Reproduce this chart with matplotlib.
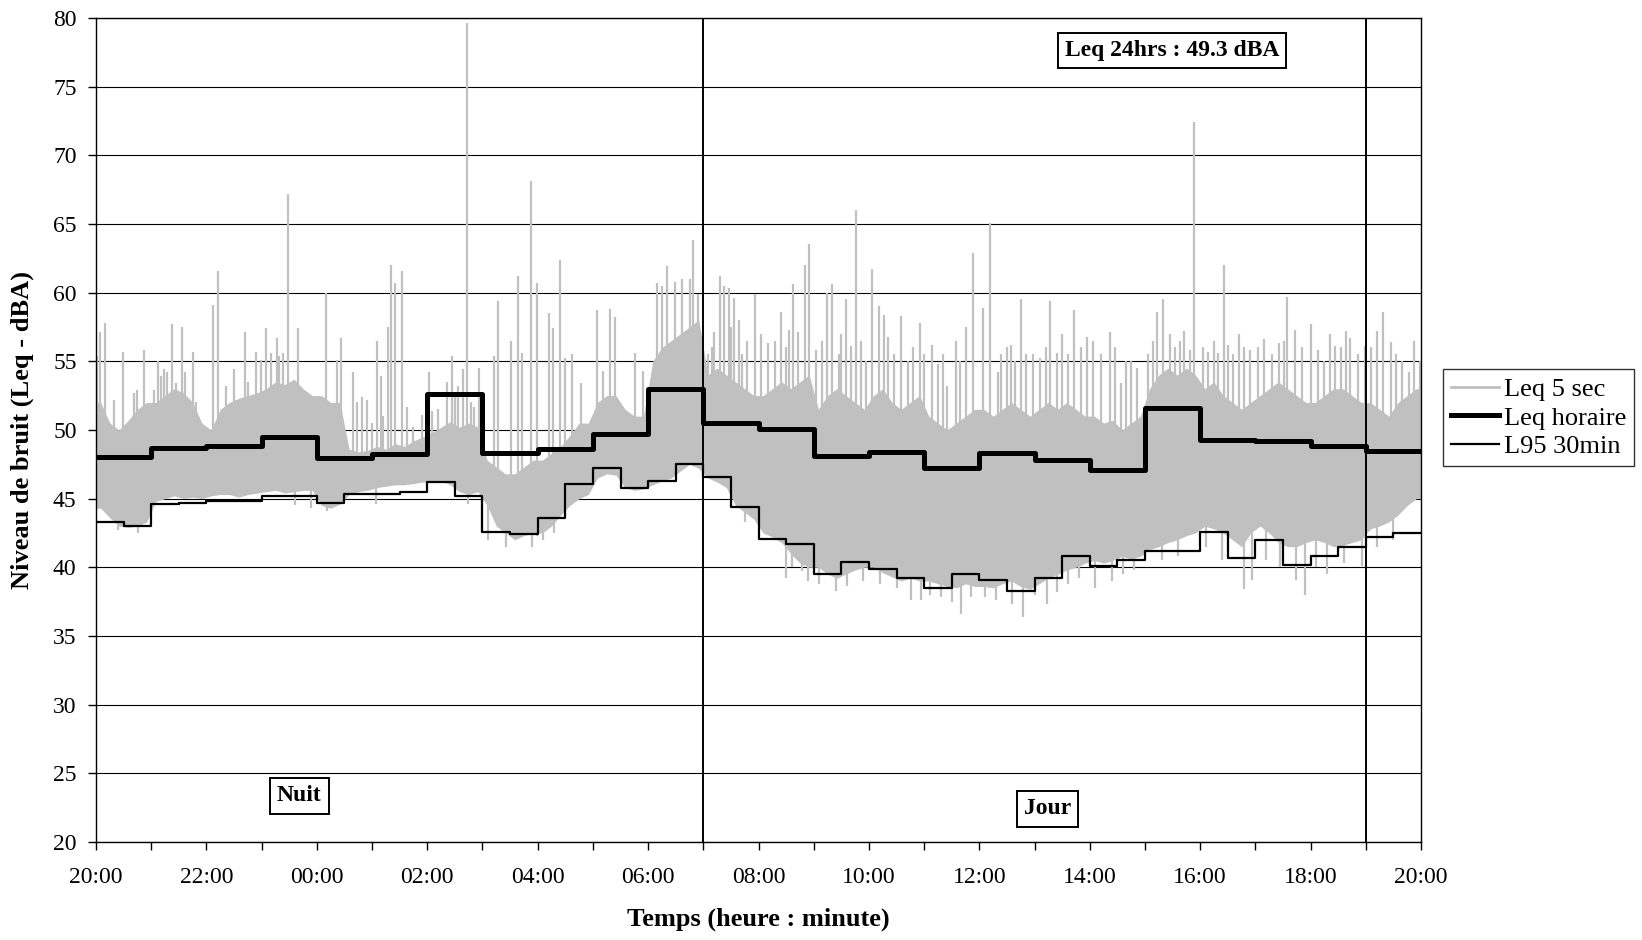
import numpy as np
import matplotlib
matplotlib.use("Agg")
import matplotlib.pyplot as plt
from matplotlib.lines import Line2D

plt.rcParams['font.family'] = ['Liberation Serif', 'DejaVu Serif']

# ---------------- data (hours since 20:00) ----------------
tick_labels = ["20:00", "22:00", "00:00", "02:00", "04:00", "06:00", "08:00",
               "10:00", "12:00", "14:00", "16:00", "18:00", "20:00"]

# Leq horaire (hourly)
leq_horaire = [48.0, 48.7, 48.8, 49.5, 47.95, 48.25, 52.65, 48.3, 48.6, 49.7,
               53.0, 50.5, 50.1, 48.1, 48.4, 47.2, 48.3, 47.8, 47.1, 51.6,
               49.3, 49.2, 48.8, 48.45]

# L95 30 min
l95_30min = [43.3, 43.0, 44.6, 44.7, 44.8, 44.85, 45.2, 45.2, 44.65, 45.3,
             45.3, 45.5, 46.2, 45.2, 42.6, 42.45, 43.6, 46.05, 47.25, 45.8,
             46.3, 47.5, 46.6, 44.4, 42.05, 41.7, 39.5, 40.4, 39.85, 39.2,
             38.5, 39.5, 39.06, 38.3, 39.2, 40.8, 40.1, 40.5, 41.2, 41.2,
             42.6, 40.7, 42.0, 40.2, 40.8, 41.45, 42.2, 42.5]

# Leq 5 sec : dense band per 10-minute bin (low / high edge)
leq5_lo = [44.3, 43.6, 43.0, 42.9, 43.0, 43.3,
           44.8, 45.0, 45.2, 45.0, 45.1, 45.0,
           45.2, 45.3, 45.3, 45.1, 45.3, 45.4,
           45.5, 45.6, 45.4, 45.5, 45.6, 45.6,
           44.5, 44.3, 44.6, 45.3, 45.5, 45.6,
           45.8, 45.9, 46.0, 46.0, 46.1, 46.2,
           46.2, 46.3, 46.0, 45.5, 45.3, 45.5,
           44.5, 43.0, 42.5, 42.0, 42.3, 42.5,
           42.5, 43.0, 43.8, 44.5, 45.0, 45.3,
           46.5, 46.8, 46.7, 45.8, 45.6, 45.7,
           46.0, 46.3, 46.5, 47.0, 47.5, 47.2,
           46.5, 46.2, 45.8, 44.5, 44.0, 43.5,
           42.5, 42.2, 41.8, 41.0, 40.3, 40.0,
           40.0, 39.5, 39.2, 39.5, 39.8, 40.0,
           40.0, 39.6, 39.3, 39.0, 39.2, 39.0,
           39.0, 38.8, 38.6, 38.5, 38.8, 38.6,
           38.6, 38.5, 38.8, 39.0, 38.6, 38.4,
           38.8, 39.2, 39.5, 39.8, 40.0, 40.3,
           40.5, 40.3, 40.5, 40.8, 40.6, 40.8,
           41.3, 41.5, 41.8, 42.0, 42.3, 42.5,
           43.0, 42.8, 42.5, 42.0, 41.5, 42.5,
           43.0, 42.5, 41.8, 41.5, 41.5, 41.8,
           42.0, 41.8, 41.5, 41.6, 41.8, 42.0,
           42.8, 43.0, 43.3, 43.8, 44.5, 45.0]
leq5_hi = [52.0, 50.5, 50.0, 50.7, 51.5, 52.0,
           52.0, 52.5, 53.0, 52.7, 52.0, 50.5,
           50.0, 51.5, 52.0, 52.3, 52.5, 52.7,
           53.0, 53.5, 53.3, 53.7, 53.0, 52.5,
           52.5, 52.0, 52.0, 48.6, 48.4, 48.5,
           48.8, 48.6, 49.0, 48.8, 49.2, 49.5,
           49.8, 50.2, 50.6, 50.2, 50.5, 50.2,
           47.8, 47.3, 46.8, 46.8, 47.3, 47.8,
           47.8, 48.3, 48.8, 49.6, 50.5, 50.5,
           52.0, 52.5, 52.5, 51.5, 51.0, 51.0,
           55.0, 56.0, 56.5, 57.0, 57.5, 58.0,
           54.0, 54.5, 54.0, 53.5, 53.0, 52.5,
           52.5, 53.0, 53.5, 53.0, 53.5, 54.0,
           51.5, 52.5, 53.0, 52.5, 52.0, 51.5,
           52.5, 53.0, 52.0, 51.5, 52.0, 52.5,
           51.0, 50.5, 50.0, 50.5, 51.0, 51.5,
           51.5, 51.0, 51.5, 52.0, 51.5, 51.0,
           51.5, 52.0, 51.5, 52.0, 51.5, 51.0,
           51.0, 50.5, 50.7, 50.0, 50.5, 51.0,
           53.0, 54.0, 54.5, 54.0, 54.5, 54.0,
           53.0, 53.5, 52.5, 52.0, 51.5, 52.0,
           52.5, 53.0, 53.5, 53.0, 52.5, 52.0,
           52.0, 52.5, 53.0, 53.0, 52.5, 52.0,
           52.0, 51.5, 51.0, 52.0, 52.5, 53.0]

# Leq 5 sec : isolated peaks (time in h since 20:00, level dBA)
spike_t = [0.01, 0.07, 0.17, 0.33, 0.49, 0.69, 0.75, 0.87, 1.05, 1.13, 1.17, 1.23,
           1.29, 1.38, 1.44, 1.55, 1.62, 1.75, 1.81, 2.11, 2.21, 2.35, 2.50, 2.69,
           2.75, 2.89, 2.98, 3.07, 3.16, 3.27, 3.32, 3.38, 3.47, 3.59, 3.65, 3.77,
           4.16, 4.37, 4.44, 4.66, 4.73, 4.81, 4.90, 5.00, 5.08, 5.17, 5.20, 5.29,
           5.34, 5.41, 5.54, 5.63, 5.75, 5.90, 6.00, 6.04, 6.09, 6.20, 6.36, 6.45,
           6.50, 6.56, 6.64, 6.72, 6.80, 6.84, 6.93,
           7.21, 7.28, 7.51, 7.65, 7.72, 7.87, 7.98,
           8.20, 8.27, 8.40, 8.50, 8.63, 8.79, 9.08, 9.19, 9.31, 9.40, 9.76, 9.90,
           10.16, 10.25, 10.34, 10.49, 10.61, 10.75, 10.82, 10.91, 11.08, 11.15,
           11.20, 11.31, 11.38, 11.46, 11.50, 11.56, 11.65, 11.70, 11.80, 11.93,
           12.05, 12.18, 12.30, 12.41, 12.50, 12.55, 12.63, 12.72, 12.85, 12.92,
           13.05, 13.15, 13.24, 13.33, 13.45, 13.50, 13.59, 13.67, 13.76, 13.85,
           13.95, 14.06, 14.19, 14.28, 14.35, 14.45, 14.58, 14.70, 14.80, 14.92,
           15.00, 15.14, 15.25, 15.35, 15.42, 15.57, 15.65, 15.75, 15.89,
           16.07, 16.20, 16.33, 16.40, 16.50, 16.58, 16.65, 16.76, 16.85, 16.97,
           17.10, 17.20, 17.28, 17.41, 17.50, 17.60, 17.72, 17.85, 17.95,
           18.05, 18.20, 18.36, 18.45, 18.56, 18.66, 18.75, 18.85,
           19.05, 19.15, 19.22, 19.33, 19.45, 19.55, 19.63, 19.70, 19.82, 19.89,
           20.05, 20.15, 20.25, 20.32, 20.44, 20.50, 20.60, 20.70, 20.80, 20.91,
           21.05, 21.15, 21.30, 21.42, 21.51, 21.58, 21.71, 21.85,
           22.00, 22.13, 22.25, 22.35, 22.44, 22.55, 22.65, 22.71, 22.85, 22.99,
           23.10, 23.20, 23.32, 23.46, 23.55, 23.65, 23.78, 23.88, 23.98]
spike_v = [55.4, 57.1, 57.8, 52.2, 55.7, 52.7, 52.9, 55.8, 52.9, 55.0, 53.9, 54.4,
           54.2, 57.7, 53.4, 57.5, 54.2, 55.7, 52.0, 59.1, 61.6, 53.2, 54.4, 57.1,
           53.5, 55.7, 55.1, 57.4, 55.6, 56.7, 55.4, 55.6, 67.2, 53.2, 57.4, 52.9,
           60.0, 55.1, 56.7, 54.2, 52.0, 52.4, 52.2, 50.5, 56.5, 53.9, 51.0, 57.5,
           62.0, 60.7, 61.6, 51.7, 50.2, 51.1, 50.5, 54.2, 51.4, 51.5, 53.5, 55.4,
           52.5, 53.2, 54.4, 79.6, 52.0, 51.7, 54.5,
           55.4, 59.4, 56.5, 61.2, 55.6, 68.1, 60.7,
           58.5, 57.4, 62.4, 55.2, 55.5, 53.4, 58.7, 54.3, 58.8, 58.2, 55.6, 54.3,
           60.7, 60.5, 61.9, 60.8, 61.0, 61.0, 63.8, 59.9, 55.5, 56.0,
           57.1, 61.2, 60.5, 60.3, 57.5, 59.6, 58.0, 55.5, 56.5, 59.9,
           57.0, 56.3, 56.5, 58.6, 56.0, 57.3, 60.6, 57.1, 62.0, 63.5,
           55.8, 56.5, 60.0, 60.6, 55.5, 57.0, 59.5, 56.1, 66.0, 56.5,
           55.0, 61.7, 59.0, 58.4, 56.8, 55.5, 58.3, 55.0, 56.0, 57.8,
           55.5, 56.2, 54.8, 55.5, 53.2, 56.5, 55.0, 57.5, 62.9,
           58.9, 65.1, 54.2, 55.5, 56.0, 56.2, 55.0, 59.5, 55.5, 55.5,
           55.2, 56.0, 59.4, 55.6, 57.0, 55.5, 58.7, 56.0, 56.8,
           56.5, 55.5, 57.1, 56.0, 53.4, 55.0, 55.0, 54.5,
           55.5, 56.5, 58.6, 59.5, 57.0, 56.0, 56.5, 57.2, 55.8, 72.4,
           56.0, 55.7, 56.5, 55.6, 62.0, 56.2, 55.5, 57.0, 56.0, 55.8,
           56.0, 56.6, 55.5, 56.3, 56.5, 59.7, 57.3, 56.0,
           57.7, 55.8, 55.0, 57.0, 56.1, 56.0, 57.2, 56.7, 55.5, 56.1,
           56.0, 57.2, 58.6, 56.4, 55.5, 55.0, 54.2, 56.5, 55.0]

# Leq 5 sec : isolated low values
dip_t = [0.39, 0.57, 0.76, 3.60, 3.90, 4.19, 5.07, 6.74, 7.00, 7.10, 7.42, 7.90,
         7.98, 8.10, 8.30, 11.76, 12.49, 12.60, 12.78, 12.90, 13.10, 13.40, 13.60,
         13.90, 14.20, 14.50, 14.76, 14.95, 15.10, 15.30, 15.50, 15.67, 15.85,
         16.10, 16.30, 16.59, 16.79, 17.00, 17.22, 17.40, 17.60, 17.80, 18.10,
         18.40, 18.60, 18.80, 19.30, 19.60, 20.10, 20.40, 20.79, 20.93, 21.20,
         21.45, 21.74, 21.90, 22.10, 22.30, 22.60, 22.94, 23.20, 23.50]
dip_v = [42.7, 42.9, 42.5, 44.5, 44.3, 44.1, 44.6, 44.6, 42.5, 42.0, 41.5, 41.5,
         42.3, 42.0, 42.5, 43.3, 39.2, 40.0, 39.7, 39.0, 38.8, 38.3, 38.6,
         39.0, 38.8, 38.5, 37.6, 37.6, 38.0, 37.8, 37.5, 36.6, 37.8,
         37.8, 37.6, 37.3, 36.4, 38.0, 37.3, 38.2, 38.8, 39.2, 38.5,
         39.0, 39.5, 39.8, 40.5, 40.8, 41.5, 40.5, 38.4, 39.1, 40.5,
         40.0, 39.1, 38.0, 40.0, 39.5, 40.3, 40.1, 41.5, 42.0]

day_start, day_end = 11.0, 23.0   # 07:00 and 19:00
leq24_text = "Leq 24hrs : 49.3 dBA"

# ---------------- figure ----------------
fig = plt.figure(figsize=(16.42, 9.40), dpi=100)
ax = fig.add_axes([0.0585, 0.1043, 0.8069, 0.8767])

gray = '#C0C0C0'
n_bins = len(leq5_lo)
t_bin = (np.arange(n_bins) + 0.5) * (24.0 / n_bins)
lo = np.array(leq5_lo)
hi = np.array(leq5_hi)
ax.fill_between(np.concatenate([[0], t_bin, [24]]),
                np.concatenate([[lo[0]], lo, [lo[-1]]]),
                np.concatenate([[hi[0]], hi, [hi[-1]]]),
                color=gray, lw=0, zorder=2)
mid = (lo + hi) / 2
ax.vlines(spike_t, np.interp(spike_t, t_bin, mid), spike_v, color=gray, lw=1.6, zorder=2)
ax.vlines(dip_t, dip_v, np.interp(dip_t, t_bin, mid), color=gray, lw=1.6, zorder=2)

# hourly Leq
h_edges = np.arange(len(leq_horaire) + 1)
ax.step(h_edges, leq_horaire + [leq_horaire[-1]], where='post', color='black', lw=3.6, zorder=4)
# L95 30 min
m_edges = np.arange(len(l95_30min) + 1) * 0.5
ax.step(m_edges, l95_30min + [l95_30min[-1]], where='post', color='black', lw=1.6, zorder=4)

ax.axvline(day_start, color='black', lw=1.4, zorder=5)
ax.axvline(day_end, color='black', lw=1.4, zorder=5)

ax.set_xlim(0, 24)
ax.set_ylim(20, 80)
ax.set_xticks(np.arange(0, 25, 2))
ax.set_xticklabels(tick_labels)
ax.set_xticks(np.arange(0, 25, 1), minor=True)
ax.set_yticks(np.arange(20, 81, 5))
ax.tick_params(axis='both', which='both', direction='out', length=6, width=1, labelsize=17)
ax.tick_params(axis='x', which='both', pad=12)
ax.tick_params(axis='y', pad=8)
ax.grid(axis='y', color='black', lw=0.8)
ax.set_axisbelow(True)
for s in ax.spines.values():
    s.set_linewidth(1.0)

ax.set_xlabel("Temps (heure : minute)", fontsize=19, fontweight='bold', labelpad=14)
ax.set_ylabel("Niveau de bruit (Leq - dBA)", fontsize=19, fontweight='bold', labelpad=14)

box = dict(boxstyle='square,pad=0.3', facecolor='white', edgecolor='black', lw=1.4)
ax.text(19.49, 77.6, leq24_text, fontsize=17, fontweight='bold', ha='center', va='center', bbox=box, zorder=6)
ax.text(3.68, 23.35, "Nuit", fontsize=17, fontweight='bold', ha='center', va='center', bbox=box, zorder=6)
ax.text(17.23, 22.4, "Jour", fontsize=17, fontweight='bold', ha='center', va='center', bbox=box, zorder=6)

handles = [Line2D([], [], color=gray, lw=2),
           Line2D([], [], color='black', lw=3.6),
           Line2D([], [], color='black', lw=1.6)]
leg = fig.legend(handles, ["Leq 5 sec", "Leq horaire", "L95 30min"],
                 loc='upper left', bbox_to_anchor=(0.879, 0.607), bbox_transform=fig.transFigure,
                 fontsize=19, frameon=True, fancybox=False, edgecolor='black',
                 handlelength=1.8, handletextpad=0.2, borderpad=0.3, labelspacing=0.2,
                 borderaxespad=0)
leg.get_frame().set_linewidth(1.0)

fig.savefig("out.png", dpi=100)
